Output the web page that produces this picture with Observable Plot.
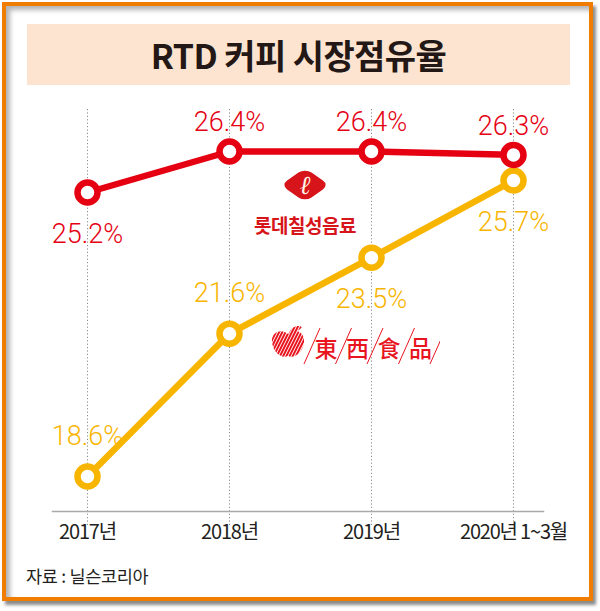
<!DOCTYPE html>
<html>
<head>
<meta charset="utf-8">
<script src="https://cdn.jsdelivr.net/npm/d3@7"></script>
<script src="https://cdn.jsdelivr.net/npm/@observablehq/plot@0.6"></script>
<style>
  html, body { margin: 0; padding: 0; background: #ffffff; }
  #page { position: relative; width: 600px; height: 611px; overflow: hidden; background: #ffffff; }
  #card { position: absolute; left: 2px; top: 2px; width: 591px; height: 599px; box-sizing: border-box;
          border: 4px solid #f07d00; background: #ffffff;
          box-shadow: 3px 4px 3px rgba(0,0,0,0.45), inset 4px 4px 5px rgba(0,0,0,0.30); }
  #title { position: absolute; left: 27px; top: 24px; width: 543px; height: 61px; background: #fde4d0;
           text-align: center; line-height: 61px; color: #231815;
           font-family: 'Noto Sans CJK KR', sans-serif; font-weight: 700; font-size: 34px; }
  #title span { display: inline-block; letter-spacing: -0.6px; }
  .plotbox { position: absolute; left: 0; top: 90px; width: 600px; }
  #overlay { pointer-events: none; }
  #caption { position: absolute; left: 26px; top: 563px; font-family: 'Noto Sans CJK KR', sans-serif;
             font-size: 17.5px; color: #231f20; letter-spacing: -0.3px; }
  .logo { position: absolute; }
  #base g[aria-label="x-axis tick label"] text { font-size: 20px !important; letter-spacing: -1.2px;
             font-family: 'Noto Sans CJK KR', sans-serif; fill: #231f20; }
</style>
</head>
<body>
<div id="page">
  <div id="card"></div>
  <div id="title"><span>RTD 커피 시장점유율</span></div>
  <div id="base" class="plotbox"></div>
  <div id="overlay" class="plotbox"></div>
  <svg id="lotte" class="logo" style="left:240px; top:160px" width="130" height="80"></svg>
  <svg id="dongsuh" class="logo" style="left:265px; top:322px" width="175" height="45"></svg>
  <div id="caption">자료 : 닐슨코리아</div>
</div>
<script>
// ---- data ----
const periods = ["2017", "2018", "2019", "2020Q1"];
const periodLabels = ["2017년", "2018년", "2019년", "2020년 1~3월"];
const lotteShare = [25.2, 26.4, 26.4, 26.3];
const dongsuhShare = [18.6, 21.6, 23.5, 25.7];
const lotteLabelSide = ["below", "above", "above", "above"];
const dongsuhLabelSide = ["above", "above", "below", "below"];
const seriesNames = ["롯데칠성음료", "東西食品"];

const RED = "#e50012";
const YELLOW = "#f8b500";
const numFont = "Roboto, 'Noto Sans', sans-serif";
const krFont = "'Noto Sans CJK KR', sans-serif";

const lotteRows = periods.map((p, i) => ({period: p, value: lotteShare[i], side: lotteLabelSide[i]}));
const dongsuhRows = periods.map((p, i) => ({period: p, value: dongsuhShare[i], side: dongsuhLabelSide[i]}));
const fmt = d => d.value.toFixed(1) + "%";

const W = 600, H = 465;
const common = {
  width: W, height: H,
  marginTop: 19, marginBottom: 44, marginLeft: 52, marginRight: 57,
  x: {type: "point", domain: periods, range: [87, 513], padding: 0, axis: null},
};

function labelMarks(rows, color, dyAbove, dyBelow) {
  return [
    Plot.text(rows.filter(d => d.side === "above"), {x: "period", y: "value", text: fmt, dy: dyAbove,
      fill: color, fontSize: 27, fontFamily: numFont, fontWeight: 300}),
    Plot.text(rows.filter(d => d.side === "below"), {x: "period", y: "value", text: fmt, dy: dyBelow,
      fill: color, fontSize: 27, fontFamily: numFont, fontWeight: 300})
  ];
}

// base plot: grid, axis, 동서식품 series
const base = Plot.plot({
  ...common,
  style: {background: "transparent", color: "#231f20", fontFamily: krFont, fontSize: "20px"},
  y: {type: "pow", exponent: -0.5, domain: d3.extent(dongsuhShare), range: [386, 90], axis: null},
  marks: [
    Plot.ruleX(periods, {x: d => d, stroke: "#8c8c8c", strokeWidth: 1, strokeDasharray: "1.2 2.2", insetBottom: -14}),
    Plot.frame({anchor: "bottom", stroke: "#a9a9a9", strokeWidth: 1.5}),
    Plot.axisX({tickSize: 0, tickPadding: 13, fontSize: 20, label: null,
      tickFormat: d => periodLabels[periods.indexOf(d)]}),
    Plot.line(dongsuhRows, {x: "period", y: "value", stroke: YELLOW, strokeWidth: 6.5}),
    Plot.dot(dongsuhRows, {x: "period", y: "value", r: 10, fill: "white", stroke: YELLOW, strokeWidth: 6.5}),
    ...labelMarks(dongsuhRows, YELLOW, -40, 42)
  ]
});
document.getElementById("base").appendChild(base);

// overlay plot: 롯데칠성음료 series on its own scale
const overlay = Plot.plot({
  ...common,
  style: {background: "transparent"},
  y: {type: "linear", domain: [d3.min(lotteShare), d3.max(lotteShare)], range: [102, 61], axis: null},
  marks: [
    Plot.line(lotteRows, {x: "period", y: "value", stroke: RED, strokeWidth: 6.5}),
    Plot.dot(lotteRows, {x: "period", y: "value", r: 10, fill: "white", stroke: RED, strokeWidth: 6.5}),
    ...labelMarks(lotteRows, RED, -29, 42)
  ]
});
document.getElementById("overlay").appendChild(overlay);

// ---- brand marks (series identifiers) ----
const NS = "http://www.w3.org/2000/svg";
function el(parent, tag, attrs, text) {
  const e = document.createElementNS(NS, tag);
  for (const k in attrs) e.setAttribute(k, attrs[k]);
  if (text != null) e.textContent = text;
  parent.appendChild(e);
  return e;
}
// Lotte Chilsung
const lotte = document.getElementById("lotte");
el(lotte, "rect", {x: -15, y: -15, width: 30, height: 30, rx: 8, fill: "#d7141a",
  transform: "translate(65,25) scale(1.15,0.8) rotate(45)"});
el(lotte, "text", {x: 65, y: 34, "text-anchor": "middle", fill: "#fff3e3",
  "font-family": "'DejaVu Serif', serif", "font-style": "italic", "font-size": 26}, "ℓ");
el(lotte, "text", {x: 65, y: 73, "text-anchor": "middle", fill: "#d7141a",
  "font-family": krFont, "font-weight": 700, "font-size": 19, "letter-spacing": "-0.5"}, seriesNames[0]);

// Dongsuh Foods
const ds = document.getElementById("dongsuh");
const defs = el(ds, "defs", {});
const cp = el(defs, "clipPath", {id: "apple"});
el(cp, "path", {d: "M23,12 C30,6 40,10 39,20 C38,30 30,37 23,34 C16,37 8,30 7,20 C6,10 16,6 23,12 Z"});
el(cp, "path", {d: "M24,11 C27,4 33,3 37,5 C34,9 29,11 24,11 Z"});
const stripes = el(ds, "g", {"clip-path": "url(#apple)"});
for (let k = -20; k < 60; k += 3.2) {
  el(stripes, "line", {x1: k, y1: 40, x2: k + 20, y2: 0, stroke: "#e8141e", "stroke-width": 2});
}
const chars = seriesNames[1].split("");
chars.forEach((c, i) => {
  const cx = 61 + i * 31.5;
  el(ds, "line", {x1: cx - 22, y1: 42, x2: cx - 6, y2: 6, stroke: "#e8141e", "stroke-width": 1});
  el(ds, "text", {x: cx, y: 35, "text-anchor": "middle", fill: "#e8141e",
    "font-family": "'Noto Sans CJK TC', sans-serif", "font-weight": 500, "font-size": 23}, c);
});
el(ds, "line", {x1: 61 + 4 * 31.5 - 22, y1: 42, x2: 61 + 4 * 31.5 - 6, y2: 6, stroke: "#e8141e", "stroke-width": 1});
</script>
</body>
</html>
